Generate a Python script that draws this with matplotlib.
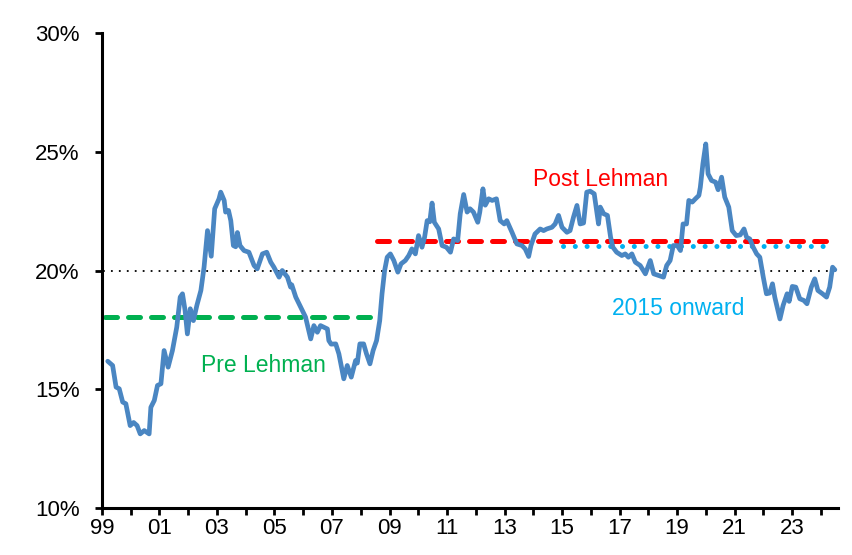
import matplotlib
matplotlib.use("Agg")
import matplotlib.pyplot as plt
from matplotlib.ticker import FixedLocator, FuncFormatter

plt.rcParams['font.family'] = ['Liberation Sans', 'DejaVu Sans']

years = [1999.2, 1999.37, 1999.49, 1999.6, 1999.72, 1999.83, 1999.98, 2000.1, 2000.22, 2000.33,
         2000.47, 2000.64, 2000.70, 2000.82, 2000.93, 2001.05, 2001.16, 2001.30, 2001.45, 2001.60,
         2001.72, 2001.80, 2001.89, 2001.97, 2002.07, 2002.18, 2002.30, 2002.44, 2002.55, 2002.67,
         2002.80, 2002.92, 2003.07, 2003.13, 2003.25, 2003.30, 2003.40, 2003.48, 2003.57, 2003.65,
         2003.71, 2003.80, 2003.94, 2004.11, 2004.29, 2004.40, 2004.58, 2004.73, 2004.87, 2004.98,
         2005.16, 2005.27, 2005.45, 2005.56, 2005.60, 2005.74, 2005.91, 2006.08, 2006.26, 2006.37,
         2006.49, 2006.60, 2006.84, 2006.89, 2006.97, 2007.13, 2007.24, 2007.41, 2007.53, 2007.67,
         2007.82, 2007.88, 2007.97, 2008.10, 2008.20, 2008.32, 2008.43, 2008.55, 2008.66, 2008.74,
         2008.83, 2008.92, 2009.03, 2009.15, 2009.29, 2009.40, 2009.55, 2009.67, 2009.78, 2009.90,
         2010.01, 2010.13, 2010.22, 2010.31, 2010.40, 2010.48, 2010.56, 2010.71, 2010.83, 2010.98,
         2011.12, 2011.23, 2011.37, 2011.46, 2011.58, 2011.70, 2011.80, 2011.92, 2012.07, 2012.14,
         2012.25, 2012.33, 2012.45, 2012.57, 2012.72, 2012.85, 2012.99, 2013.08, 2013.26, 2013.43,
         2013.61, 2013.72, 2013.84, 2013.92, 2014.06, 2014.24, 2014.36, 2014.47, 2014.65, 2014.76,
         2014.88, 2015.00, 2015.17, 2015.28, 2015.40, 2015.52, 2015.63, 2015.75, 2015.86, 2015.98,
         2016.12, 2016.27, 2016.33, 2016.45, 2016.58, 2016.69, 2016.77, 2016.90, 2017.08, 2017.20,
         2017.31, 2017.43, 2017.55, 2017.72, 2017.90, 2018.07, 2018.19, 2018.36, 2018.53, 2018.64,
         2018.76, 2018.87, 2019.01, 2019.12, 2019.21, 2019.33, 2019.41, 2019.53, 2019.64, 2019.76,
         2019.81, 2019.90, 2020.00, 2020.08, 2020.20, 2020.34, 2020.43, 2020.55, 2020.66, 2020.80,
         2020.92, 2021.06, 2021.20, 2021.33, 2021.42, 2021.53, 2021.65, 2021.77, 2021.88, 2022.00,
         2022.11, 2022.22, 2022.32, 2022.40, 2022.58, 2022.69, 2022.83, 2022.90, 2023.01, 2023.13,
         2023.27, 2023.41, 2023.52, 2023.67, 2023.79, 2023.90, 2024.06, 2024.20, 2024.31, 2024.41,
         2024.49]

share = [16.18, 16.0, 15.09, 15.02, 14.46, 14.39, 13.47, 13.6, 13.47, 13.12,
         13.26, 13.12, 14.24, 14.53, 15.16, 15.23, 16.63, 15.93, 16.63, 17.61,
         18.88, 19.02, 18.32, 17.33, 18.39, 17.89, 18.53, 19.16, 20.14, 21.68,
         20.6, 22.6, 23.02, 23.30, 22.95, 22.46, 22.53, 22.1, 21.05, 21.0,
         21.6, 21.05, 20.84, 20.77, 20.21, 20.07, 20.70, 20.77, 20.35, 20.14,
         19.72, 20.0, 19.72, 19.30, 19.4, 18.88, 18.46, 18.04, 17.12, 17.68,
         17.40, 17.68, 17.54, 17.05, 16.9, 16.91, 16.49, 15.44, 16.0, 15.51,
         16.21, 16.1, 16.91, 16.91, 16.49, 16.07, 16.63, 17.05, 17.89, 19.02,
         20.0, 20.56, 20.70, 20.42, 19.93, 20.28, 20.42, 20.63, 20.91, 20.7,
         21.47, 20.98, 21.4, 22.1, 22.05, 22.84, 22.03, 21.75, 21.05, 20.98,
         20.77, 21.33, 21.26, 22.39, 23.2, 22.46, 22.6, 22.46, 22.03, 22.46,
         23.44, 22.75, 23.02, 22.95, 23.02, 22.1, 21.96, 22.1, 21.61, 21.12,
         21.05, 20.91, 20.59, 21.05, 21.54, 21.75, 21.68, 21.75, 21.82, 21.96,
         22.32, 21.82, 21.61, 21.68, 22.25, 22.74, 21.96, 22.0, 23.30, 23.34,
         23.23, 21.96, 22.67, 22.39, 22.32, 21.4, 20.98, 20.77, 20.63, 20.7,
         20.56, 20.7, 20.35, 20.21, 19.86, 20.42, 19.86, 19.79, 19.72, 20.21,
         20.42, 21.05, 21.05, 20.84, 21.96, 21.96, 22.95, 22.88, 23.02, 23.16,
         23.5, 24.49, 25.33, 24.07, 23.79, 23.72, 23.4, 23.93, 23.09, 22.67,
         21.68, 21.47, 21.5, 21.75, 21.4, 21.33, 20.98, 20.70, 20.56, 19.72,
         19.02, 19.05, 19.44, 18.88, 17.96, 18.53, 19.02, 18.7, 19.33, 19.3,
         18.81, 18.74, 18.60, 19.30, 19.65, 19.16, 19.02, 18.88, 19.30, 20.14,
         20.03]

pre_lehman_avg = 18.06
post_lehman_avg = 21.26
onward_2015_avg = 21.05
reference_level = 20.0

y_ticks = [10, 15, 20, 25, 30]
x_label_years = list(range(1999, 2024, 2))
x_minor_years = list(range(2000, 2025, 2))

fig = plt.figure(figsize=(8.52, 5.55), dpi=100)
ax = fig.add_axes([0.1197, 0.0847, 0.8639, 0.8558])

x0, x1 = 1999.0, 2024.6
ax.plot([x0 + 0.05, x1 - 0.05], [reference_level] * 2, color='black', lw=1.3,
        linestyle=(0, (1, 3.4)), zorder=1)
dash = (0, (2.4, 2.2))
ax.plot([1999.1, 2008.6], [pre_lehman_avg] * 2, color='#00B050', lw=3.6,
        linestyle=dash, dash_capstyle='round', zorder=2)
ax.plot([2008.55, 2024.45], [post_lehman_avg] * 2, color='#FF0000', lw=3.6,
        linestyle=dash, dash_capstyle='round', zorder=2)
ax.plot([2015.05, 2024.45], [onward_2015_avg] * 2, color='#00B0F0', lw=3.6,
        linestyle=(0, (0.01, 2.35)), dash_capstyle='round', zorder=2)
ax.plot(years, share, color='#4A86C2', lw=3.4, solid_joinstyle='round',
        solid_capstyle='round', zorder=3)

ax.text(2004.6, 16.0, 'Pre Lehman', color='#00B050', fontsize=16.5, ha='center', va='center')
ax.text(2016.35, 23.85, 'Post Lehman', color='#FF0000', fontsize=16.5, ha='center', va='center')
ax.text(2019.05, 18.4, '2015 onward', color='#00B0F0', fontsize=16.5, ha='center', va='center')

ax.set_xlim(x0, x1)
ax.set_ylim(10, 30)
ax.set_yticks(y_ticks)
ax.yaxis.set_major_formatter(FuncFormatter(lambda v, p: f"{int(v)}%"))
ax.xaxis.set_major_locator(FixedLocator(x_label_years))
ax.xaxis.set_minor_locator(FixedLocator(x_minor_years))
ax.xaxis.set_major_formatter(FuncFormatter(lambda v, p: f"{int(round(v)) % 100:02d}"))

for s in ['top', 'right']:
    ax.spines[s].set_visible(False)
for s in ['left', 'bottom']:
    ax.spines[s].set_linewidth(2.2)
    ax.spines[s].set_color('black')

ax.tick_params(axis='y', direction='out', length=5, width=2, labelsize=16, pad=11)
ax.tick_params(axis='x', which='both', direction='out', length=5, width=2, labelsize=16, pad=2)

fig.savefig('out.png', dpi=100)
